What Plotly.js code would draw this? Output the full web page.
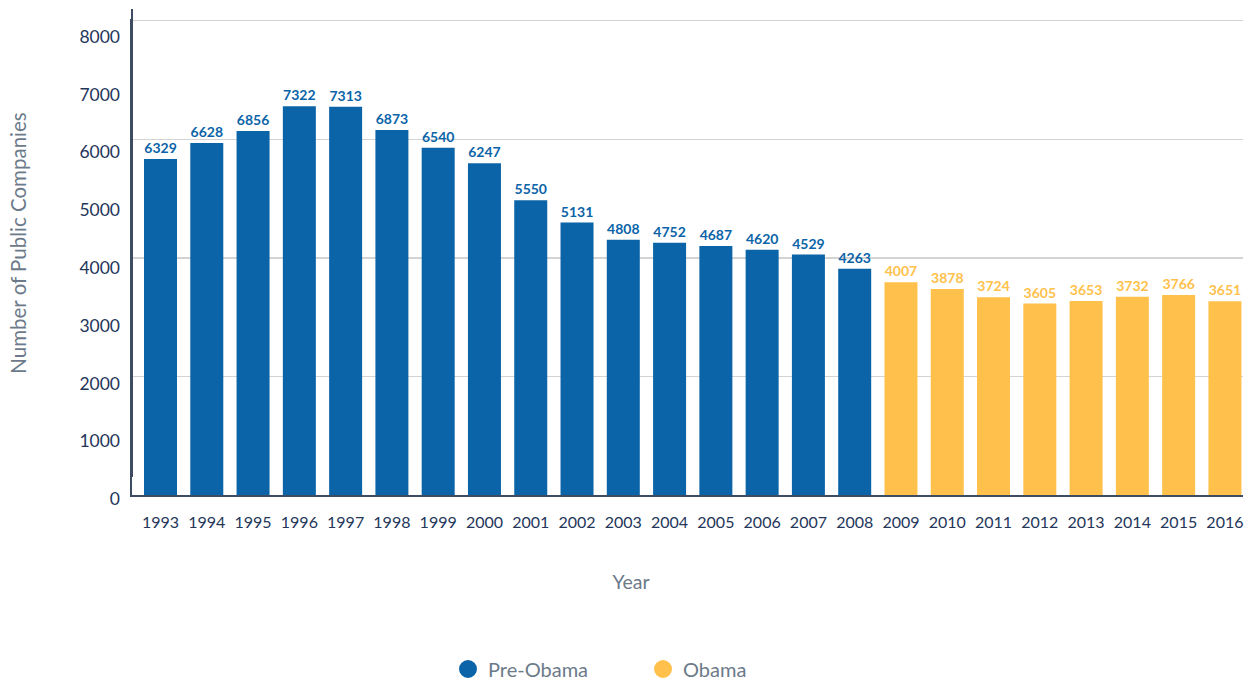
<!DOCTYPE html>
<html>
<head>
<meta charset="utf-8">
<script src="https://cdn.plot.ly/plotly-3.0.1.min.js"></script>
<style>html,body{margin:0;padding:0;background:#fff;}</style>
</head>
<body>
<div id="chart" style="width:1250px;height:681px;"></div>
<script>
// ---- data ----
const preYears = ['1993','1994','1995','1996','1997','1998','1999','2000','2001','2002','2003','2004','2005','2006','2007','2008'];
const preValues = [6329,6628,6856,7322,7313,6873,6540,6247,5550,5131,4808,4752,4687,4620,4529,4263];
const obamaYears = ['2009','2010','2011','2012','2013','2014','2015','2016'];
const obamaValues = [4007,3878,3724,3605,3653,3732,3766,3651];
const yTickLabels = [0,1000,2000,3000,4000,5000,6000,7000,8000];
const seriesNames = ['Pre-Obama','Obama'];

// ---- styling ----
const BLUE = '#0b64a8';
const YELLOW = '#ffc14b';
const TICK = '#24365a';
const GREY = '#6c7a8a';
const AXIS = '#3e4c63';
const W = 1250, H = 681, MB = 150, PH = H - MB;
const fx = px => px / W;
const fy = px => (PH - px) / PH;
const yMax = 8932;          // value at the top gridline
const yPad = 38;            // keeps the top gridline just inside the plot area
const allYears = preYears.concat(obamaYears);
const gridVals = [0, 1, 2, 3, 4].map(i => i * yMax / 4);

const bar = (xs, ys, color) => ({
  type: 'bar', x: xs, y: ys, xaxis: 'x', yaxis: 'y',
  marker: {color: color},
  text: ys.map(String), textposition: 'outside', cliponaxis: false,
  textfont: {family: 'Lato, sans-serif', size: 14, color: color, weight: 700},
  showlegend: false, hoverinfo: 'x+y'
});
const legendItem = (name, color, xa, ya) => ({
  type: 'scatter', mode: 'markers', x: [null], y: [null], xaxis: xa, yaxis: ya,
  name: name, marker: {size: 16, color: color, line: {width: 2, color: color}},
  hoverinfo: 'skip'
});

const data = [
  bar(preYears, preValues, BLUE),
  bar(obamaYears, obamaValues, YELLOW),
  legendItem(seriesNames[0], BLUE, 'x', 'y2'),
  legendItem(seriesNames[1], YELLOW, 'x2', 'y3')
];

const layout = {
  width: W, height: H,
  margin: {l: 0, r: 0, t: 0, b: MB, pad: 0, autoexpand: false},
  paper_bgcolor: '#ffffff', plot_bgcolor: 'rgba(0,0,0,0)',
  font: {family: 'Lato, sans-serif', color: TICK},
  barmode: 'overlay', bargap: 0.287,
  xaxis: {
    type: 'category', categoryorder: 'array', categoryarray: allYears,
    domain: [fx(132), fx(1242.7)], range: [-0.616, 23.384], anchor: 'y',
    showline: true, linecolor: AXIS, linewidth: 2, ticks: '', showgrid: false,
    tickfont: {size: 16, color: TICK}, ticklabelstandoff: 12, fixedrange: true
  },
  yaxis: {
    domain: [fy(495), fy(18.7)], range: [0, yMax + yPad], anchor: 'x',
    tickmode: 'array', tickvals: gridVals, showticklabels: false, ticks: '',
    showgrid: true, gridcolor: '#d3d3d3', gridwidth: 1.3,
    showline: true, linecolor: AXIS, linewidth: 2, zeroline: false, fixedrange: true
  },
  yaxis2: {
    domain: [fy(499), fy(36.7)], range: [0, 8000], anchor: 'free', position: fx(132),
    tickmode: 'array', tickvals: yTickLabels, ticktext: yTickLabels.map(String),
    showline: false, showgrid: false, zeroline: false, ticks: '',
    tickfont: {size: 17.5, color: TICK}, ticklabelstandoff: 12, fixedrange: true
  },
  yaxis3: {
    domain: [fy(477), fy(9)], range: [0, 1], anchor: 'free', position: fx(132),
    showline: true, linecolor: AXIS, linewidth: 2, showticklabels: false,
    showgrid: false, zeroline: false, ticks: '', fixedrange: true,
    title: {text: 'Number of Public Companies', font: {size: 20.5, color: GREY}, standoff: 98}
  },
  xaxis2: {
    domain: [fx(12), 1], range: [0, 1], anchor: 'free', position: 0,
    showline: false, showticklabels: false, showgrid: false, zeroline: false, ticks: '',
    fixedrange: true,
    title: {text: 'Year', font: {size: 19.5, color: GREY}, standoff: 44}
  },
  legend: {
    orientation: 'h', x: fx(448), xanchor: 'left', y: fy(669), yanchor: 'middle',
    font: {size: 20, color: GREY}, itemsizing: 'trace',
    entrywidth: 150, entrywidthmode: 'pixels', bgcolor: 'rgba(0,0,0,0)'
  },
  showlegend: true
};

Plotly.newPlot('chart', data, layout, {displayModeBar: false, staticPlot: true});
</script>
</body>
</html>
